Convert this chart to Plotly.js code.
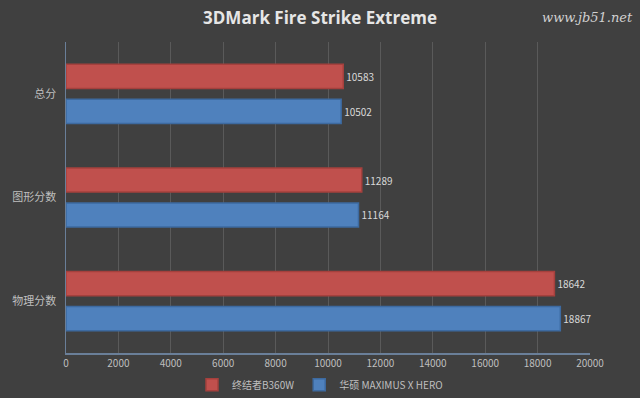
<!DOCTYPE html>
<html><head><meta charset="utf-8">
<script src="https://cdn.plot.ly/plotly-3.0.1.min.js"></script>
<style>html,body{margin:0;padding:0;background:#404040;}#chart{width:640px;height:398px;}</style>
</head><body><div id="chart"></div>
<script>
const categories = ["总分", "图形分数", "物理分数"];
const seriesNames = ["终结者B360W", "华硕 MAXIMUS X HERO"];
const b360wValues = [10583, 11289, 18642];
const heroValues = [10502, 11164, 18867];
const xTicks = [0, 2000, 4000, 6000, 8000, 10000, 12000, 14000, 16000, 18000, 20000];

const font = "'Microsoft YaHei', 'Noto Sans CJK SC', 'Open Sans', sans-serif";
const traces = [
  {type:'bar', orientation:'h', name:seriesNames[0], y:categories, x:b360wValues,
   text:b360wValues.map(String), textposition:'outside', cliponaxis:false,
   textfont:{color:'#d9d9d9', size:10, family:font},
   marker:{color:'#c0504d', line:{color:'#a5403d', width:1.5}}},
  {type:'bar', orientation:'h', name:seriesNames[1], y:categories, x:heroValues,
   text:heroValues.map(String), textposition:'outside', cliponaxis:false,
   textfont:{color:'#d9d9d9', size:10, family:font},
   marker:{color:'#4f81bd', line:{color:'#3d6aa0', width:1.5}}}
];
const layout = {
  width:640, height:398,
  paper_bgcolor:'#404040', plot_bgcolor:'#404040',
  margin:{l:66, r:50, t:42, b:45, autoexpand:false},
  title:{text:'3DMark Fire Strike Extreme', x:0.5, xanchor:'center', y:0.955, yanchor:'middle',
         font:{family:"'Open Sans', 'Noto Sans', sans-serif", size:17, color:'#e6e6e6', weight:'bold'}},
  barmode:'group', bargap:0.325, bargroupgap:0.31,
  xaxis:{range:[0,20000], tickvals:xTicks, ticktext:xTicks.map(String),
         showgrid:true, gridcolor:'#5a5a5a', gridwidth:1, zeroline:false,
         showline:true, linecolor:'#6a7f99', linewidth:1.5, mirror:false,
         tickfont:{family:font, size:10, color:'#bfbfbf'}, ticks:'', ticklen:0},
  yaxis:{autorange:'reversed', showline:true, linecolor:'#6a7f99', linewidth:1.5,
         showgrid:false, ticks:'', ticklabelstandoff:6,
         tickfont:{family:font, size:11, color:'#bfbfbf'}},
  legend:{orientation:'h', x:0.5, xanchor:'center', xref:'container', y:0.033, yanchor:'middle', yref:'container',
          font:{family:font, size:10, color:'#bfbfbf'}, traceorder:'normal',
          itemwidth:20, bgcolor:'rgba(0,0,0,0)'},
  showlegend:true,
  annotations:[{text:'www.jb51.net', xref:'paper', yref:'paper', x:1.085, y:1.08, xanchor:'right', yanchor:'middle',
                showarrow:false, font:{family:"'DejaVu Serif', serif", size:13, color:'#d0d0d0', style:'italic'}}]
};
Plotly.newPlot('chart', traces, layout, {displayModeBar:false, staticPlot:true});
</script></body></html>
